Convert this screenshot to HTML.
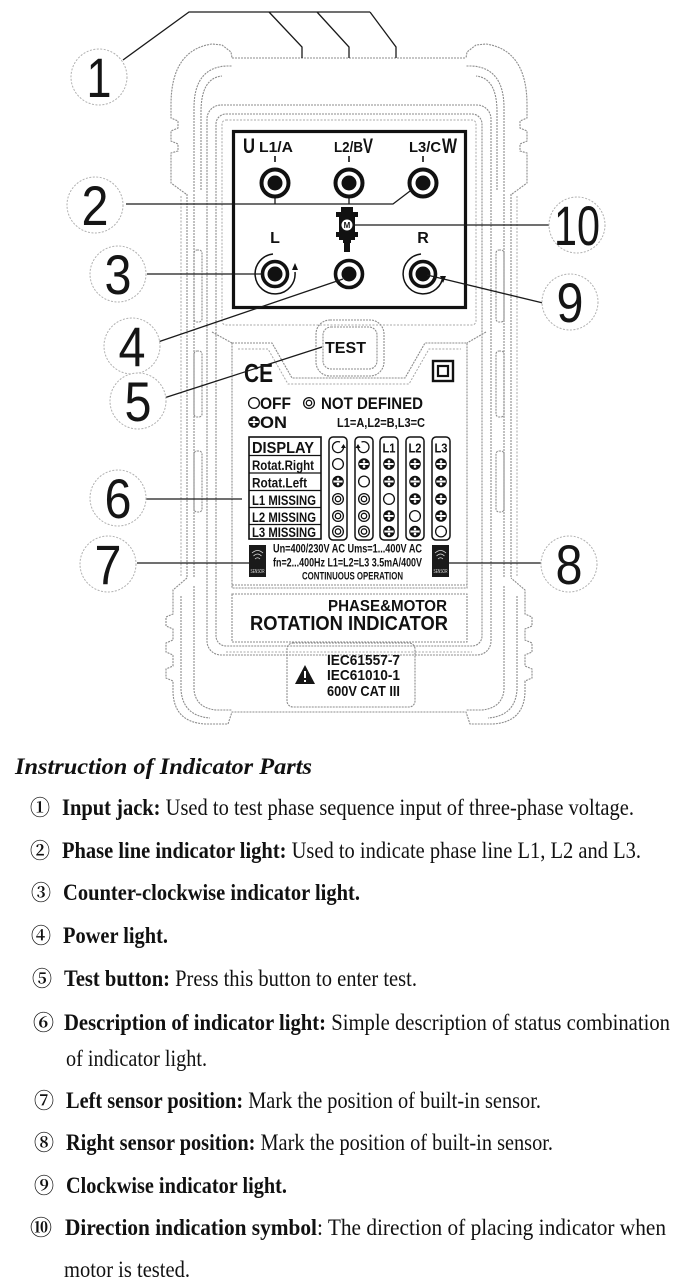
<!DOCTYPE html>
<html><head><meta charset="utf-8">
<style>
html,body{margin:0;padding:0;background:#fff;}
body{width:680px;height:1285px;overflow:hidden;}
svg{display:block;}
.g{fill:none;stroke:#8c8c8c;stroke-width:1.1;stroke-dasharray:2 1;}
.g2{fill:none;stroke:#a8a8a8;stroke-width:1;stroke-dasharray:2 1.5;}
.k{fill:none;stroke:#1a1a1a;stroke-width:1.3;}
.c{fill:#fff;stroke:#b0b0b0;stroke-width:1;stroke-dasharray:2 1.5;}
.dig{font-family:"Liberation Sans",sans-serif;font-size:56px;fill:#151515;text-anchor:middle;}
.b{font-family:"Liberation Sans",sans-serif;font-weight:bold;fill:#111;}
.s{font-family:"Liberation Serif",serif;fill:#111;font-size:23.5px;}
.n{font-family:"Noto Serif CJK SC","DejaVu Sans",serif;fill:#111;font-size:21px;font-weight:bold;}
</style></head><body>
<svg width="680" height="1285" viewBox="0 0 680 1285" xmlns="http://www.w3.org/2000/svg">
<defs>
<g id="on"><circle r="5.8" fill="#111"/><rect x="-4.6" y="-1" width="9.2" height="2" fill="#fff"/><circle cx="0" cy="-2.6" r="1.3" fill="#fff"/><circle cx="0" cy="2.6" r="1.3" fill="#fff"/></g>
<g id="off"><circle r="5.4" fill="#fff" stroke="#111" stroke-width="1.3"/></g>
<g id="nd"><circle r="5.4" fill="#fff" stroke="#111" stroke-width="1.3"/><circle r="2.7" fill="none" stroke="#111" stroke-width="1.3"/></g>
</defs>

<!-- ===== device outline ===== -->
<path class="g" d="M186,194 L171,183 L171,153 L178,151 L178,144 L171,141 L171,131 L178,128 L178,121 L171,118 L171,105 Q171,50 212,44 L222,45 L231,52 L232,58"/>
<path class="g" d="M512,194 L527,183 L527,153 L520,151 L520,144 L527,141 L527,131 L520,128 L520,121 L527,118 L527,105 Q527,50 486,44 L476,45 L467,52 L466,58"/>
<path class="g" d="M194,192 L194,108 Q194,68 226,66 L232,66"/>
<path class="g" d="M504,192 L504,108 Q504,68 472,66 L466,66"/>
<path class="g" d="M201,190 L201,112 Q201,78 222,76"/>
<path class="g" d="M497,190 L497,112 Q497,78 476,76"/>
<path class="g" d="M232,58 L466,58"/>
<path class="g" d="M187,194 L187,578 M194,194 L194,578 M511,194 L511,578 M504,194 L504,578"/>
<path class="g2" d="M181,196 L181,576 M517,196 L517,576"/>
<rect class="g" x="194" y="250" width="8" height="72" rx="3"/>
<rect class="g" x="194" y="351" width="8" height="66" rx="3"/>
<rect class="g" x="194" y="451" width="8" height="61" rx="3"/>
<rect class="g" x="496" y="250" width="8" height="72" rx="3"/>
<rect class="g" x="496" y="351" width="8" height="66" rx="3"/>
<rect class="g" x="496" y="451" width="8" height="61" rx="3"/>
<path class="g" d="M187,578 L173,590 L173,614 L166,617 L166,626 L173,629 L173,640 L166,643 L166,652 L173,655 L173,666 L166,669 L166,678 L173,681 L173,692 Q174,722 205,724 L228,724 L232,712 L466,712 L470,724 L493,724 Q524,722 525,692 L525,681 L532,678 L532,669 L525,666 L525,655 L532,652 L532,643 L525,640 L525,629 L532,626 L532,617 L525,614 L525,590 L511,578"/>
<path class="g" d="M194,586 L194,690 Q196,708 216,710 L232,710"/>
<path class="g" d="M504,586 L504,690 Q502,708 482,710 L466,710"/>
<path class="g" d="M181,596 L181,690 Q183,716 210,718"/>
<path class="g" d="M517,596 L517,690 Q515,716 488,718"/>

<!-- faceplate -->
<rect class="g" x="207" y="105" width="284" height="550" rx="14"/>
<rect class="g" x="216" y="114" width="266" height="532" rx="10"/>
<rect class="g2" x="222" y="120" width="254" height="205" rx="4"/>
<path class="g" d="M212,332 L232,343 M486,332 L467,343"/>
<path class="g" d="M232,343 L272,343 L292,378 L405,378 L425,343 L467,343 L467,588 L232,588 Z"/>
<path class="g2" d="M238,349 L268,349 L288,384 L409,384 L429,349 L461,349"/>
<path class="g" d="M232,594 L467,594 L467,642 L232,642 Z"/>
<path class="g" d="M232,585 L467,585"/>
<path class="g2" d="M226,652 L472,652"/>

<!-- TEST button -->
<rect class="g" x="316" y="320" width="68" height="56" rx="14" fill="#fff"/>
<rect class="g" x="323" y="327" width="54" height="42" rx="8"/>
<text class="b" x="325" y="353" font-size="16" textLength="41" lengthAdjust="spacingAndGlyphs">TEST</text>

<!-- IEC tab -->
<rect x="287" y="643" width="128" height="64" rx="6" fill="#fff" class="g"/>
<polygon points="305,665 295,684 315,684" fill="#151515"/>
<rect x="304" y="671" width="2" height="7" fill="#fff"/>
<rect x="304" y="680" width="2" height="2" fill="#fff"/>
<text class="b" x="327" y="665" font-size="15" textLength="73" lengthAdjust="spacingAndGlyphs">IEC61557-7</text>
<text class="b" x="327" y="680" font-size="15" textLength="73" lengthAdjust="spacingAndGlyphs">IEC61010-1</text>
<text class="b" x="327" y="696" font-size="15" textLength="73" lengthAdjust="spacingAndGlyphs">600V CAT III</text>

<!-- ===== black box ===== -->
<rect x="233.5" y="131.5" width="232" height="176" fill="none" stroke="#111" stroke-width="3.2"/>
<text class="b" x="243" y="153" font-size="21" textLength="12" lengthAdjust="spacingAndGlyphs">U</text>
<text class="b" x="259" y="152" font-size="15" textLength="34" lengthAdjust="spacingAndGlyphs">L1/A</text>
<text class="b" x="334" y="152" font-size="15" textLength="29" lengthAdjust="spacingAndGlyphs">L2/B</text>
<text class="b" x="363" y="153" font-size="21" textLength="10" lengthAdjust="spacingAndGlyphs">V</text>
<text class="b" x="409" y="152" font-size="15" textLength="32" lengthAdjust="spacingAndGlyphs">L3/C</text>
<text class="b" x="442" y="153" font-size="21" textLength="15" lengthAdjust="spacingAndGlyphs">W</text>
<path d="M275,156 L275,162 M349,156 L349,162 M423,156 L423,162" stroke="#111" stroke-width="1.6"/>

<!-- leader 2 (behind jacks) -->
<path class="k" d="M126,204 L393,204 L414,188 M275,190 L275,204 M349,190 L349,204"/>

<!-- jacks row 1 -->
<g fill="#fff" stroke="#111" stroke-width="4">
<circle cx="275" cy="183" r="13.5"/><circle cx="349" cy="183" r="13.5"/><circle cx="423" cy="183" r="13.5"/>
</g>
<g fill="#111"><circle cx="275" cy="183" r="7.5"/><circle cx="349" cy="183" r="7.5"/><circle cx="423" cy="183" r="7.5"/></g>

<!-- motor symbol -->
<rect x="341" y="207" width="12" height="5" fill="#111"/>
<rect x="336" y="212" width="22" height="5" fill="#111"/>
<rect x="339" y="212" width="16" height="28" fill="#111"/>
<rect x="336" y="232" width="22" height="5" fill="#111"/>
<rect x="343" y="240" width="8" height="3" fill="#111"/>
<rect x="344" y="242" width="6" height="10" fill="#111"/>
<circle cx="347" cy="225" r="6" fill="#fff" stroke="#111" stroke-width="1"/>
<text class="b" x="347" y="228" font-size="8" text-anchor="middle">M</text>

<text class="b" x="275" y="243" font-size="16" text-anchor="middle">L</text>
<text class="b" x="423" y="243" font-size="16" text-anchor="middle">R</text>

<!-- jacks row 2 -->
<g fill="#fff" stroke="#111" stroke-width="3.6">
<circle cx="275" cy="274" r="12.5"/><circle cx="349" cy="274" r="13.5"/><circle cx="423" cy="274" r="12.5"/>
</g>
<g fill="#111"><circle cx="275" cy="274" r="7.5"/><circle cx="349" cy="274" r="7.5"/><circle cx="423" cy="274" r="7.5"/></g>
<path d="M273,254 A20,20 0 1 0 295,272" fill="none" stroke="#111" stroke-width="1.5"/>
<polygon points="295,263 292,270 298,270" fill="#111"/>
<path d="M421,254 A20,20 0 1 0 443,276" fill="none" stroke="#111" stroke-width="1.5"/>
<polygon points="443,283 440,276 446,276" fill="#111"/>

<!-- CE, double square -->
<text class="b" x="244" y="382" font-size="26" textLength="29" lengthAdjust="spacingAndGlyphs">CE</text>
<rect x="433" y="361" width="20" height="20" fill="none" stroke="#111" stroke-width="2.4"/>
<rect x="438" y="366" width="10" height="10" fill="none" stroke="#111" stroke-width="2.2"/>

<!-- legend -->
<use href="#off" x="254" y="403"/>
<text class="b" x="260" y="409" font-size="17" textLength="31" lengthAdjust="spacingAndGlyphs">OFF</text>
<use href="#nd" x="309" y="403"/>
<text class="b" x="321" y="409" font-size="17" textLength="102" lengthAdjust="spacingAndGlyphs">NOT DEFINED</text>
<use href="#on" x="254" y="422"/>
<text class="b" x="260" y="428" font-size="17" textLength="27" lengthAdjust="spacingAndGlyphs">ON</text>
<text class="b" x="337" y="427" font-size="13" textLength="88" lengthAdjust="spacingAndGlyphs">L1=A,L2=B,L3=C</text>

<!-- table -->
<rect x="249" y="437" width="72" height="102" fill="none" stroke="#111" stroke-width="1.6"/>
<path d="M249,455.5 L321,455.5 M249,473 L321,473 M249,490.5 L321,490.5 M249,507.5 L321,507.5 M249,524.5 L321,524.5" stroke="#111" stroke-width="1.2"/>
<text class="b" x="252" y="453" font-size="16" textLength="62" lengthAdjust="spacingAndGlyphs">DISPLAY</text>
<text class="b" x="252" y="470" font-size="13.5" textLength="62" lengthAdjust="spacingAndGlyphs">Rotat.Right</text>
<text class="b" x="252" y="487.5" font-size="13.5" textLength="55" lengthAdjust="spacingAndGlyphs">Rotat.Left</text>
<text class="b" x="252" y="505" font-size="13.5" textLength="64" lengthAdjust="spacingAndGlyphs">L1 MISSING</text>
<text class="b" x="252" y="522" font-size="13.5" textLength="64" lengthAdjust="spacingAndGlyphs">L2 MISSING</text>
<text class="b" x="252" y="537" font-size="13.5" textLength="64" lengthAdjust="spacingAndGlyphs">L3 MISSING</text>
<g fill="none" stroke="#111" stroke-width="1.5">
<rect x="329" y="437" width="18" height="103" rx="4"/>
<rect x="355" y="437" width="18" height="103" rx="4"/>
<rect x="380" y="437" width="18" height="103" rx="4"/>
<rect x="406" y="437" width="18" height="103" rx="4"/>
<rect x="432" y="437" width="18" height="103" rx="4"/>
</g>
<path d="M340,442 A5.5,5.5 0 1 0 343.5,447" fill="none" stroke="#111" stroke-width="1.3"/>
<polygon points="343.5,444 341,448 346,448" fill="#111"/>
<path d="M361.5,442 A5.5,5.5 0 1 1 358,447" fill="none" stroke="#111" stroke-width="1.3"/>
<polygon points="358,444 355.5,448 360.5,448" fill="#111"/>
<text class="b" x="389" y="452.5" font-size="13" text-anchor="middle" textLength="13" lengthAdjust="spacingAndGlyphs">L1</text>
<text class="b" x="415" y="452.5" font-size="13" text-anchor="middle" textLength="13" lengthAdjust="spacingAndGlyphs">L2</text>
<text class="b" x="441" y="452.5" font-size="13" text-anchor="middle" textLength="13" lengthAdjust="spacingAndGlyphs">L3</text>
<use href="#off" x="338" y="464"/><use href="#on" x="364" y="464"/><use href="#on" x="389" y="464"/><use href="#on" x="415" y="464"/><use href="#on" x="441" y="464"/>
<use href="#on" x="338" y="481.5"/><use href="#off" x="364" y="481.5"/><use href="#on" x="389" y="481.5"/><use href="#on" x="415" y="481.5"/><use href="#on" x="441" y="481.5"/>
<use href="#nd" x="338" y="499"/><use href="#nd" x="364" y="499"/><use href="#off" x="389" y="499"/><use href="#on" x="415" y="499"/><use href="#on" x="441" y="499"/>
<use href="#nd" x="338" y="516"/><use href="#nd" x="364" y="516"/><use href="#on" x="389" y="516"/><use href="#off" x="415" y="516"/><use href="#on" x="441" y="516"/>
<use href="#nd" x="338" y="531.5"/><use href="#nd" x="364" y="531.5"/><use href="#on" x="389" y="531.5"/><use href="#on" x="415" y="531.5"/><use href="#off" x="441" y="531.5"/>

<!-- sensors -->
<rect x="249" y="545" width="17" height="32" fill="#1a1a1a"/>
<rect x="432" y="545" width="17" height="32" fill="#1a1a1a"/>
<g fill="none" stroke="#ddd" stroke-width="0.8">
<path d="M252,553 Q257.5,548 263,553 M253.5,556 Q257.5,552 261.5,556 M255,559 Q257.5,556.5 260,559"/>
<path d="M435,553 Q440.5,548 446,553 M436.5,556 Q440.5,552 444.5,556 M438,559 Q440.5,556.5 443,559"/>
</g>
<text x="250.5" y="573" font-family="Liberation Sans,sans-serif" font-size="5" fill="#ddd" textLength="14" lengthAdjust="spacingAndGlyphs">SENSOR</text>
<text x="433.5" y="573" font-family="Liberation Sans,sans-serif" font-size="5" fill="#ddd" textLength="14" lengthAdjust="spacingAndGlyphs">SENSOR</text>

<text class="b" x="273" y="552.5" font-size="11.5" textLength="149" lengthAdjust="spacingAndGlyphs">Un=400/230V AC  Ums=1...400V AC</text>
<text class="b" x="273" y="566.5" font-size="11.5" textLength="149" lengthAdjust="spacingAndGlyphs">fn=2...400Hz  L1=L2=L3 3.5mA/400V</text>
<text class="b" x="302" y="579.5" font-size="11" textLength="101" lengthAdjust="spacingAndGlyphs">CONTINUOUS OPERATION</text>

<text class="b" x="328" y="611" font-size="15.5" textLength="119" lengthAdjust="spacingAndGlyphs">PHASE&amp;MOTOR</text>
<text class="b" x="250" y="630" font-size="20" textLength="198" lengthAdjust="spacingAndGlyphs">ROTATION   INDICATOR</text>

<!-- ===== leaders ===== -->
<path class="k" d="M123,60 L189,12 L370,12 M269,12 L302,47 L302,58 M317,12 L349,47 L349,58 M370,12 L396,47 L396,58"/>
<path class="k" d="M147,274 L262,274"/>
<path class="k" d="M158,342 L343,279"/>
<path class="k" d="M164,398 L322,347"/>
<path class="k" d="M146,499 L242,499"/>
<path class="k" d="M137,563 L249,563"/>
<path class="k" d="M449,563 L541,563"/>
<path class="k" d="M427,275 L543,303"/>
<path class="k" d="M353,225 L550,225"/>

<!-- ===== number circles ===== -->
<circle class="c" cx="99" cy="77" r="28"/><text class="dig" x="99" y="97" textLength="25" lengthAdjust="spacingAndGlyphs">1</text>
<circle class="c" cx="95" cy="205" r="28"/><text class="dig" x="95" y="225" textLength="27" lengthAdjust="spacingAndGlyphs">2</text>
<circle class="c" cx="118" cy="274" r="28"/><text class="dig" x="118" y="294" textLength="27" lengthAdjust="spacingAndGlyphs">3</text>
<circle class="c" cx="132" cy="346" r="28"/><text class="dig" x="132" y="366" textLength="27" lengthAdjust="spacingAndGlyphs">4</text>
<circle class="c" cx="138" cy="401" r="28"/><text class="dig" x="138" y="421" textLength="27" lengthAdjust="spacingAndGlyphs">5</text>
<circle class="c" cx="118" cy="498" r="28"/><text class="dig" x="118" y="518" textLength="27" lengthAdjust="spacingAndGlyphs">6</text>
<circle class="c" cx="108" cy="564" r="28"/><text class="dig" x="108" y="584" textLength="27" lengthAdjust="spacingAndGlyphs">7</text>
<circle class="c" cx="569" cy="564" r="28"/><text class="dig" x="569" y="584" textLength="27" lengthAdjust="spacingAndGlyphs">8</text>
<circle class="c" cx="570" cy="302" r="28"/><text class="dig" x="570" y="322" textLength="27" lengthAdjust="spacingAndGlyphs">9</text>
<circle class="c" cx="577" cy="225" r="28"/><text class="dig" x="577" y="245" textLength="46" lengthAdjust="spacingAndGlyphs">10</text>

<!-- ===== instructions ===== -->
<text class="s" x="15" y="774" font-size="27" font-weight="bold" font-style="italic" textLength="297" lengthAdjust="spacingAndGlyphs">Instruction of Indicator Parts</text>

<text class="n" x="30" y="815" textLength="20" lengthAdjust="spacingAndGlyphs">①</text>
<text class="s" x="62" y="815" textLength="572" lengthAdjust="spacingAndGlyphs"><tspan font-weight="bold">Input jack:</tspan> Used to test phase sequence input of three-phase voltage.</text>

<text class="n" x="30" y="858" textLength="20" lengthAdjust="spacingAndGlyphs">②</text>
<text class="s" x="62" y="858" textLength="579" lengthAdjust="spacingAndGlyphs"><tspan font-weight="bold">Phase line indicator light:</tspan> Used to indicate phase line L1, L2 and L3.</text>

<text class="n" x="31" y="900" textLength="20" lengthAdjust="spacingAndGlyphs">③</text>
<text class="s" x="63" y="900" font-weight="bold" textLength="297" lengthAdjust="spacingAndGlyphs">Counter-clockwise indicator light.</text>

<text class="n" x="31" y="943" textLength="20" lengthAdjust="spacingAndGlyphs">④</text>
<text class="s" x="63" y="943" font-weight="bold" textLength="105" lengthAdjust="spacingAndGlyphs">Power light.</text>

<text class="n" x="32" y="986" textLength="20" lengthAdjust="spacingAndGlyphs">⑤</text>
<text class="s" x="64" y="986" textLength="353" lengthAdjust="spacingAndGlyphs"><tspan font-weight="bold">Test button:</tspan> Press this button to enter test.</text>

<text class="n" x="33" y="1030" textLength="21" lengthAdjust="spacingAndGlyphs">⑥</text>
<text class="s" x="64" y="1030" textLength="606" lengthAdjust="spacingAndGlyphs"><tspan font-weight="bold">Description of indicator light:</tspan> Simple description of status combination</text>
<text class="s" x="66" y="1066" textLength="141" lengthAdjust="spacingAndGlyphs">of indicator light.</text>

<text class="n" x="34" y="1108" textLength="20" lengthAdjust="spacingAndGlyphs">⑦</text>
<text class="s" x="66" y="1108" textLength="475" lengthAdjust="spacingAndGlyphs"><tspan font-weight="bold">Left sensor position:</tspan> Mark the position of built-in sensor.</text>

<text class="n" x="34" y="1150" textLength="20" lengthAdjust="spacingAndGlyphs">⑧</text>
<text class="s" x="66" y="1150" textLength="487" lengthAdjust="spacingAndGlyphs"><tspan font-weight="bold">Right sensor position:</tspan> Mark the position of built-in sensor.</text>

<text class="n" x="34" y="1193" textLength="20" lengthAdjust="spacingAndGlyphs">⑨</text>
<text class="s" x="66" y="1193" font-weight="bold" textLength="221" lengthAdjust="spacingAndGlyphs">Clockwise indicator light.</text>

<text class="n" x="30" y="1235" textLength="22" lengthAdjust="spacingAndGlyphs">⑩</text>
<text class="s" x="65" y="1235" textLength="601" lengthAdjust="spacingAndGlyphs"><tspan font-weight="bold">Direction indication symbol</tspan>: The direction of placing indicator when</text>
<text class="s" x="64" y="1277" textLength="126" lengthAdjust="spacingAndGlyphs">motor is tested.</text>
</svg>
</body></html>
